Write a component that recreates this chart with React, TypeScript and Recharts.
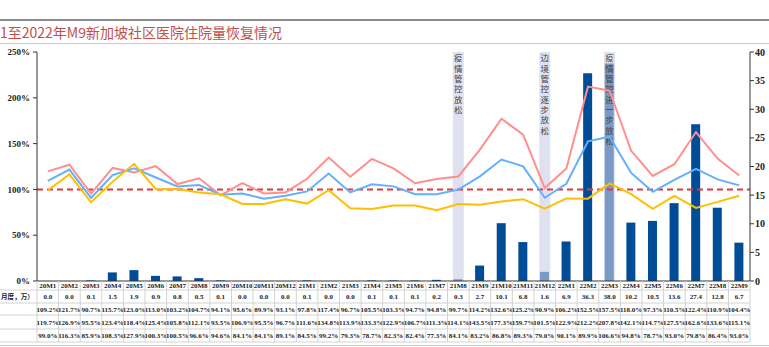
import React from "react";
import { ComposedChart, Bar, Line, XAxis, YAxis, ReferenceLine } from "recharts";

const categories = [
  "20M1", "20M2", "20M3", "20M4", "20M5", "20M6", "20M7", "20M8", "20M9", "20M10", "20M11", "20M12",
  "21M1", "21M2", "21M3", "21M4", "21M5", "21M6", "21M7", "21M8", "21M9", "21M10", "21M11", "21M12",
  "22M1", "22M2", "22M3", "22M4", "22M5", "22M6", "22M7", "22M8", "22M9",
];

// 住院量（月度，万）
const admissions = [
  0.0, 0.0, 0.1, 1.5, 1.9, 0.9, 0.8, 0.5, 0.1, 0.0, 0.0, 0.0,
  0.1, 0.0, 0.0, 0.1, 0.1, 0.1, 0.2, 0.3, 2.7, 10.1, 6.8, 1.6,
  6.9, 36.3, 38.0, 10.2, 10.5, 13.6, 27.4, 12.8, 6.7,
];

const recoveryBlue = [
  109.2, 121.7, 90.7, 115.7, 123.0, 113.0, 103.2, 104.7, 94.1, 95.6, 89.9, 93.1,
  97.8, 117.4, 96.7, 105.5, 103.3, 94.7, 94.8, 99.7, 114.2, 132.6, 125.2, 90.9,
  106.2, 152.5, 157.5, 118.0, 97.3, 110.5, 122.4, 110.9, 104.4,
];

const recoveryPink = [
  119.7, 126.9, 95.5, 123.4, 118.4, 125.4, 105.8, 112.1, 93.5, 106.9, 95.5, 96.7,
  111.6, 134.8, 113.9, 133.3, 122.9, 106.7, 111.3, 114.1, 143.5, 177.3, 159.7, 101.5,
  122.9, 212.2, 207.8, 142.1, 114.7, 127.5, 162.6, 133.6, 115.1,
];

const recoveryYellow = [
  99.0, 116.3, 85.9, 108.3, 127.9, 100.3, 100.5, 96.6, 94.6, 84.1, 84.1, 89.1,
  84.5, 99.2, 79.3, 78.7, 82.3, 82.4, 77.3, 84.1, 83.2, 86.8, 89.3, 79.0,
  90.1, 89.9, 106.6, 94.8, 78.7, 93.0, 79.8, 86.4, 93.0,
];

const leftTicks = [0, 50, 100, 150, 200, 250];
const rightTicks = [0, 5, 10, 15, 20, 25, 30, 35, 40];

const eventCats = ["21M8", "21M12", "22M3"];
const eventTexts = ["疫情管控放松", "边境管控逐步放松", "疫情管控进一步放松"];

const data = categories.map((cat, i) => ({
  cat,
  admissions: admissions[i],
  blue: recoveryBlue[i],
  pink: recoveryPink[i],
  yellow: recoveryYellow[i],
}));

const W = 769;
const H = 347;
const LEFT_W = 37;
const RIGHT_W = 19;
const CELL_W = (W - LEFT_W - RIGHT_W) / categories.length;
const ROW_EDGES = [0, 9, 22, 34, 48, 61];
const SERIF = "'Liberation Serif', 'Times New Roman', serif";
const CJK = "'Noto Sans CJK SC', sans-serif";
const GRID = "#d2d2d2";

const pct = (v: number) => v.toFixed(1) + "%";

function TableTick(props: any) {
  const { x, y, payload, index } = props;
  const i = index;
  const left = x - CELL_W / 2;
  const right = x + CELL_W / 2;
  const texts = [
    payload.value,
    admissions[i].toFixed(1),
    pct(recoveryBlue[i]),
    pct(recoveryPink[i]),
    pct(recoveryYellow[i]),
  ];
  const bottom = y + ROW_EDGES[ROW_EDGES.length - 1];
  return (
    <g>
      <line x1={left} x2={left} y1={y} y2={bottom} stroke={GRID} />
      {i === categories.length - 1 && <line x1={right} x2={right} y1={y} y2={bottom} stroke={GRID} />}
      {ROW_EDGES.slice(1).map((e) => (
        <line key={e} x1={left} x2={right} y1={y + e} y2={y + e} stroke={GRID} />
      ))}
      {texts.map((t, r) => (
        <text
          key={r}
          x={x}
          y={y + (ROW_EDGES[r] + ROW_EDGES[r + 1]) / 2 + 2.5}
          textAnchor="middle"
          fontFamily={SERIF}
          fontWeight="bold"
          fontSize={7}
          fill="#222"
        >
          {t}
        </text>
      ))}
      {i === 0 && (
        <g>
          {ROW_EDGES.slice(1).map((e) => (
            <line key={e} x1={0} x2={left} y1={y + e} y2={y + e} stroke={GRID} />
          ))}
          <text
            x={1}
            y={y + (ROW_EDGES[1] + ROW_EDGES[2]) / 2 + 2.5}
            textAnchor="start"
            fontFamily={CJK}
            fontWeight="bold"
            fontSize={6.6}
            fill="#222"
          >
            月度，万）
          </text>
        </g>
      )}
    </g>
  );
}

function BandLabel(props: any) {
  const { viewBox, text } = props;
  if (!viewBox) return null;
  return (
    <text
      x={viewBox.x}
      y={viewBox.y + 2}
      fontFamily={CJK}
      fontSize={8.5}
      fill="#444"
      style={{ writingMode: "vertical-rl", letterSpacing: 1.8 }}
    >
      {text}
    </text>
  );
}

export default function App() {
  return (
    <div style={{ position: "relative", width: W, height: H, overflow: "hidden", background: "#fff" }}>
      <style>{"body{margin:0}"}</style>
      <div style={{ position: "absolute", left: 0, top: 19, width: W, height: 2, background: "#8c8c8c" }} />
      <div
        style={{
          position: "absolute",
          left: 0,
          top: 23,
          fontFamily: CJK,
          fontSize: 14,
          color: "#c0504d",
          whiteSpace: "nowrap",
          lineHeight: "18px",
        }}
      >
        1至2022年M9新加坡社区医院住院量恢复情况
      </div>
      <div style={{ position: "absolute", left: 0, top: 43, width: W, height: 1, background: "#cccccc" }} />
      <div style={{ position: "absolute", left: 0, top: 345, width: W, height: 1, background: "#cccccc" }} />
      <div style={{ position: "absolute", left: 0, top: 0 }}>
        <ComposedChart width={W} height={H} data={data} margin={{ top: 52, right: 0, bottom: 4, left: 0 }}>
          <XAxis
            dataKey="cat"
            xAxisId="x"
            interval={0}
            height={62}
            tickLine={false}
            tickSize={0}
            tickMargin={0}
            axisLine={{ stroke: "#333" }}
            tick={<TableTick />}
          />
          <YAxis
            yAxisId="left"
            width={LEFT_W}
            domain={[0, 250]}
            ticks={leftTicks}
            tickFormatter={(v) => v + "%"}
            tickSize={4}
            tickMargin={3}
            axisLine={{ stroke: "#333" }}
            tickLine={{ stroke: "#333" }}
            tick={{ fontFamily: SERIF, fontWeight: "bold", fontSize: 9, fill: "#222" }}
          />
          <YAxis
            yAxisId="right"
            orientation="right"
            width={RIGHT_W}
            domain={[0, 40]}
            ticks={rightTicks}
            tickSize={4}
            tickMargin={1}
            axisLine={{ stroke: "#333" }}
            tickLine={{ stroke: "#333" }}
            tick={{ fontFamily: SERIF, fontWeight: "bold", fontSize: 10, fill: "#222", textAnchor: "start" }}
          />
          <Bar
            dataKey="admissions"
            xAxisId="x"
            yAxisId="right"
            fill="#004c97"
            barSize={9}
            isAnimationActive={false}
          />
          {eventCats.map((c, k) => (
            <ReferenceLine
              key={c}
              x={c}
              xAxisId="x"
              yAxisId="left"
              stroke="#c9cde6"
              strokeOpacity={0.6}
              strokeWidth={11}
              label={<BandLabel text={eventTexts[k]} />}
            />
          ))}
          <ReferenceLine
            y={100}
            xAxisId="x"
            yAxisId="left"
            stroke="#e0393e"
            strokeWidth={2}
            strokeDasharray="6 4"
          />
          <Line
            dataKey="pink"
            xAxisId="x"
            yAxisId="left"
            stroke="#ff8f8f"
            strokeWidth={2}
            dot={false}
            isAnimationActive={false}
          />
          <Line
            dataKey="blue"
            xAxisId="x"
            yAxisId="left"
            stroke="#62b0ff"
            strokeWidth={2}
            dot={false}
            isAnimationActive={false}
          />
          <Line
            dataKey="yellow"
            xAxisId="x"
            yAxisId="left"
            stroke="#ffbf00"
            strokeWidth={2}
            dot={false}
            isAnimationActive={false}
          />
        </ComposedChart>
      </div>
    </div>
  );
}
